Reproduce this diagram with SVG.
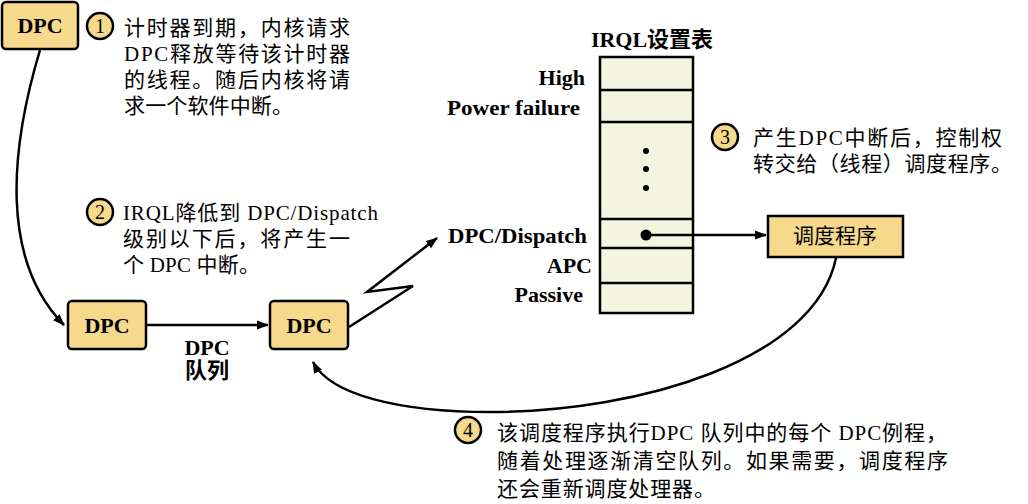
<svg xmlns="http://www.w3.org/2000/svg" width="1028" height="504" viewBox="0 0 1028 504">
<defs>
<style>
.box{fill:#f6d98a;stroke:#000;stroke-width:2.5}
.num{fill:#f6d98a;stroke:#000;stroke-width:2.5}
.tbl{fill:#f4f5de;stroke:#000;stroke-width:2.5}
.div{stroke:#000;stroke-width:2.5}
.t{font-family:"Liberation Serif","Noto Sans CJK SC",serif;font-size:21px;fill:#000}
.b{font-family:"Liberation Serif","Noto Sans CJK SC",serif;font-size:22px;font-weight:bold;fill:#000}
.n{font-family:"Liberation Serif",serif;font-size:20px;fill:#000;text-anchor:middle}
.c{fill:none;stroke:#000;stroke-width:2.5}
</style>
<marker id="ah" viewBox="0 0 12 10" refX="11" refY="5" markerWidth="12" markerHeight="10" markerUnits="userSpaceOnUse" orient="auto">
<path d="M0,0.5 L12,5 L0,9.5 Z" fill="#000"/>
</marker>
</defs>
<rect width="1028" height="504" fill="#fff"/>

<g id="dpc-top">
<rect class="box" x="2" y="2" width="76" height="47" rx="4"/>
<text class="b" x="40" y="33" text-anchor="middle">DPC</text>
</g>
<g id="dpc-queue-1">
<rect class="box" x="68" y="301" width="78" height="48" rx="4"/>
<text class="b" x="107" y="333" text-anchor="middle">DPC</text>
</g>
<g id="dpc-queue-2">
<rect class="box" x="270" y="301" width="78" height="48" rx="4"/>
<text class="b" x="309" y="333" text-anchor="middle">DPC</text>
</g>
<g id="queue-label">
<text class="b" x="207" y="355" text-anchor="middle" font-size="20">DPC</text>
<text class="b" x="207" y="378" text-anchor="middle" font-size="19">队列</text>
</g>

<g id="scheduler">
<rect class="box" x="768" y="216" width="135" height="41"/>
<text class="t" x="835" y="243" text-anchor="middle" font-size="22">调度程序</text>
</g>

<g id="irql-table">
<text class="b" x="652" y="47" text-anchor="middle">IRQL设置表</text>
<rect class="tbl" x="600" y="57" width="93" height="256"/>
<line class="div" x1="600" y1="90" x2="693" y2="90"/>
<line class="div" x1="600" y1="122" x2="693" y2="122"/>
<line class="div" x1="600" y1="219" x2="693" y2="219"/>
<line class="div" x1="600" y1="248" x2="693" y2="248"/>
<line class="div" x1="600" y1="283" x2="693" y2="283"/>
<circle cx="646" cy="151" r="3"/>
<circle cx="646" cy="169" r="3"/>
<circle cx="646" cy="188" r="3"/>
<circle cx="646" cy="235" r="5.5"/>
<text class="b" x="585" y="85" text-anchor="end">High</text>
<text class="b" x="580" y="115" text-anchor="end" textLength="133" lengthAdjust="spacingAndGlyphs">Power failure</text>
<text class="b" x="587" y="243" text-anchor="end" textLength="139" lengthAdjust="spacingAndGlyphs">DPC/Dispatch</text>
<text class="b" x="592" y="273" text-anchor="end">APC</text>
<text class="b" x="583" y="302" text-anchor="end">Passive</text>
</g>

<g id="note-1">
<circle class="num" cx="100" cy="26" r="13"/>
<text class="n" x="100" y="33">1</text>
<text class="t" x="124" y="35" textLength="226" lengthAdjust="spacing">计时器到期，内核请求</text>
<text class="t" x="124" y="61" textLength="226" lengthAdjust="spacing">DPC释放等待该计时器</text>
<text class="t" x="124" y="87" textLength="226" lengthAdjust="spacing">的线程。随后内核将请</text>
<text class="t" x="124" y="113" textLength="169" lengthAdjust="spacing">求一个软件中断。</text>
</g>

<g id="note-2">
<circle class="num" cx="100" cy="212" r="13"/>
<text class="n" x="100" y="219">2</text>
<text class="t" x="123" y="220" textLength="255" lengthAdjust="spacing">IRQL降低到 DPC/Dispatch</text>
<text class="t" x="123" y="246" textLength="227" lengthAdjust="spacing">级别以下后，将产生一</text>
<text class="t" x="123" y="272" textLength="137" lengthAdjust="spacing">个 DPC 中断。</text>
</g>

<g id="note-3">
<circle class="num" cx="725" cy="137" r="13"/>
<text class="n" x="725" y="144">3</text>
<text class="t" x="753" y="145" textLength="249" lengthAdjust="spacing">产生DPC中断后，控制权</text>
<text class="t" x="753" y="171" textLength="259" lengthAdjust="spacing">转交给（线程）调度程序。</text>
</g>

<g id="note-4">
<circle class="num" cx="468" cy="430" r="13"/>
<text class="n" x="468" y="437">4</text>
<text class="t" x="497" y="440" textLength="450" lengthAdjust="spacing">该调度程序执行DPC 队列中的每个 DPC例程，</text>
<text class="t" x="497" y="468" textLength="451" lengthAdjust="spacing">随着处理逐渐清空队列。如果需要，调度程序</text>
<text class="t" x="497" y="496" textLength="218" lengthAdjust="spacing">还会重新调度处理器。</text>
</g>

<g id="connectors">
<path class="c" d="M40,50 C10,150 0,260 64,325" marker-end="url(#ah)"/>
<line class="c" x1="147" y1="325" x2="268" y2="325" marker-end="url(#ah)"/>
<polyline class="c" points="349,327 413,286 367,292 437,238" marker-end="url(#ah)"/>
<line class="c" x1="646" y1="235" x2="766" y2="235" marker-end="url(#ah)"/>
<path class="c" d="M836,258 C815,360 640,412 490,412 C400,412 330,395 313,362" marker-end="url(#ah)"/>
</g>
</svg>
